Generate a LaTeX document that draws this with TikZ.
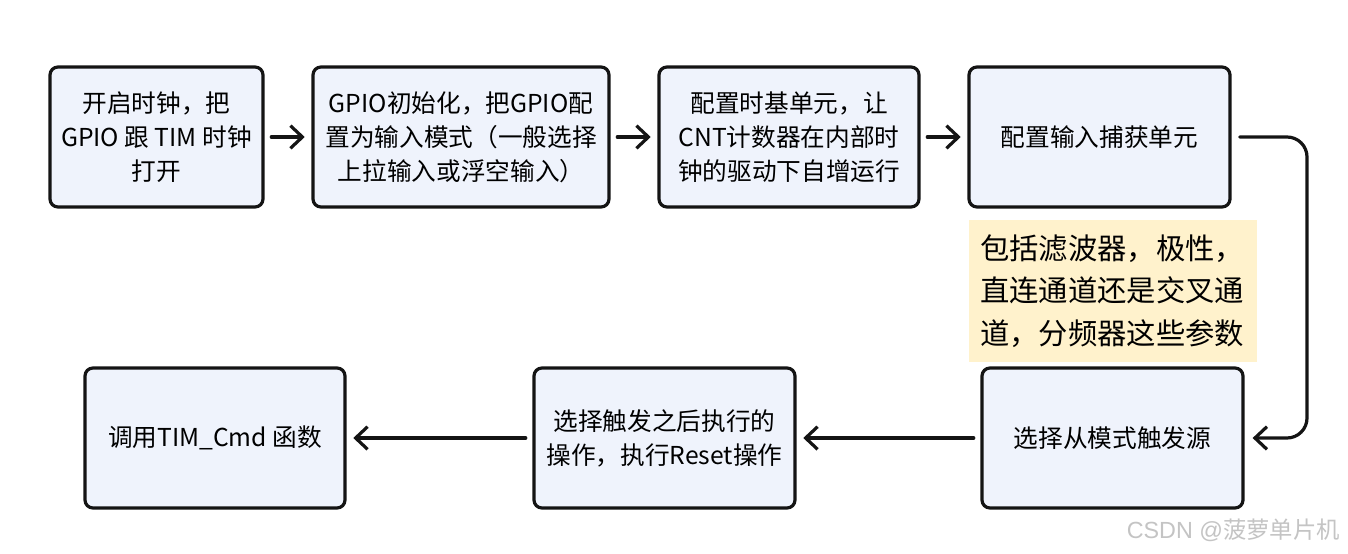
\documentclass[tikz,border=0pt]{standalone}
\usepackage{fontspec}
\setmainfont{Noto Sans CJK SC}
\newfontfamily\wmlatin{Liberation Sans}
\usetikzlibrary{arrows.meta}

\definecolor{boxfill}{HTML}{EFF3FC}
\definecolor{boxline}{HTML}{141414}
\definecolor{notefill}{HTML}{FFF2CC}
\definecolor{wmgray}{HTML}{C4C4C4}

\tikzset{
  stepbox/.style={draw=boxline, line width=2.4pt, fill=boxfill, rounded corners=6pt,
    minimum height=105pt, align=center, inner sep=4pt,
    font=\fontsize{18.5pt}{25.5pt}\selectfont},
  notebox/.style={fill=notefill, minimum width=216pt, minimum height=106.5pt,
    text width=199.5pt, inner xsep=8.25pt, align=left,
    font=\fontsize{22pt}{32pt}\selectfont},
  arr/.style={draw=boxline, line width=2.4pt, line cap=round, line join=round,
    -{Straight Barb[length=9pt, width=17pt, line width=2.4pt]}},
}

\begin{document}
\begin{tikzpicture}[x=0.75pt, y=-0.75pt]
  \useasboundingbox[fill=white] (0,0) rectangle (1348,553);

  % top row
  \node[stepbox, minimum width=159.75pt] (b1) at (156.5,137) {开启时钟，把\\GPIO 跟 TIM 时钟\\打开};
  \node[stepbox, minimum width=222pt] (b2) at (461,137) {GPIO初始化，把GPIO配\\置为输入模式（一般选择\\上拉输入或浮空输入）};
  \node[stepbox, minimum width=195pt] (b3) at (789,137) {配置时基单元，让\\CNT计数器在内部时\\钟的驱动下自增运行};
  \node[stepbox, minimum width=195.75pt] (b4) at (1099.5,137) {配置输入捕获单元};

  % explanatory note under the capture unit
  \node[notebox] (note) at (1113,291) {包括滤波器，极性，\\直连通道还是交叉通\\道，分频器这些参数};

  % bottom row
  \node[stepbox, minimum width=195.75pt] (b5) at (1112.5,438) {选择从模式触发源};
  \node[stepbox, minimum width=195.75pt] (b6) at (664.5,438) {选择触发之后执行的\\操作，执行Reset操作};
  \node[stepbox, minimum width=195pt] (b7) at (215,438) {调用TIM\_Cmd 函数};

  % connectors
  \draw[arr] ([xshift=5pt]b1.east) -- ([xshift=-5pt]b2.west);
  \draw[arr] ([xshift=5pt]b2.east) -- ([xshift=-5pt]b3.west);
  \draw[arr] ([xshift=5pt]b3.east) -- ([xshift=-5pt]b4.west);

  \coordinate (t1) at (1307,137);
  \coordinate (t2) at (1307,438);
  \draw[arr, rounded corners=15pt] ([xshift=6pt]b4.east) -- (t1) -- (t2) -- ([xshift=6pt]b5.east);

  \draw[arr] ([xshift=-5pt]b5.west) -- ([xshift=5pt]b6.east);
  \draw[arr] ([xshift=-5pt]b6.west) -- ([xshift=5pt]b7.east);

  % watermark
  \node[anchor=east, text=wmgray, inner sep=0pt, font=\fontsize{17.5pt}{19pt}\selectfont] (wm) at (1340,530) {{\wmlatin CSDN @}菠萝单片机};
\end{tikzpicture}
\end{document}
